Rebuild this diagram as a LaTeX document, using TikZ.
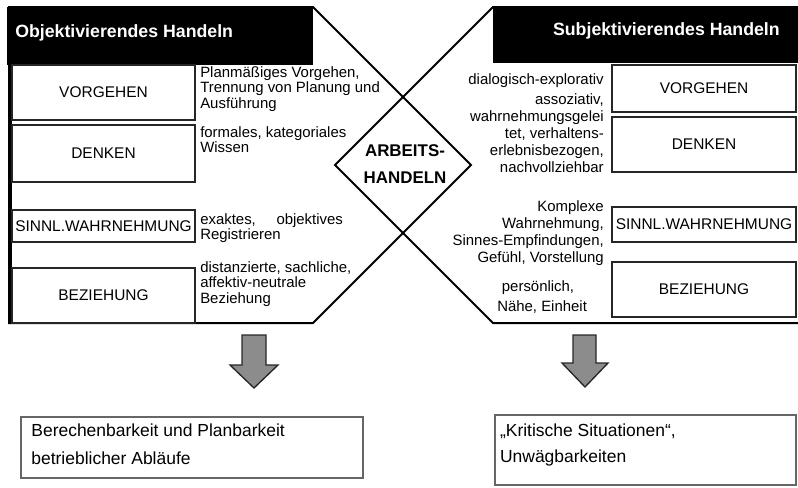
\documentclass[tikz,border=0pt]{standalone}
\usepackage{fontspec}
\setmainfont{Liberation Sans}
\usetikzlibrary{fit}
\begin{document}
\begin{tikzpicture}[x=0.75pt,y=-0.75pt,
		kasten/.style={draw=black!85,line width=1.1pt,inner sep=0pt},
		wort/.style={inner sep=0pt,font=\fontsize{11.6}{13}\selectfont},
		unten/.style={draw=black!60,line width=0.8pt,inner sep=0pt},
		textL/.style={anchor=north west,inner sep=0pt,align=left,font=\fontsize{11.2}{11.6}\selectfont},
		textR/.style={anchor=north east,inner sep=0pt,align=right,font=\fontsize{11.2}{12.75}\selectfont},
		kopf/.style={inner sep=0pt,text=white,font=\bfseries\fontsize{13.3}{15}\selectfont},
		pfeil/.style={draw=black!85,line width=1pt,fill=black!45}]
				\useasboundingbox (0,0) rectangle (798,487);
				\draw[line width=1.5pt,line join=miter] (9,7)--(313,7)--(471,165)--(313,323)--(9,323)--cycle;
				\draw[line width=1.5pt,line join=miter] (800,7)--(493,7)--(335,165)--(493,323)--(800,323);
				\draw[line width=1.2pt] (11,7)--(11,323);
				\fill (7,7) rectangle (313,65);
				\fill (493,7) rectangle (798,63);
				\node[kopf,anchor=west] (objH) at (15,33) {Objektivierendes Handeln};
				\node[kopf,anchor=east] (subH) at (780,31) {Subjektivierendes Handeln};
				\node[kasten,fit={(12,65)(195,120)}] (vorgehenL) {};
				\node[kasten,fit={(12,125)(195,182)}] (denkenL) {};
				\node[kasten,fit={(12,210)(195,242)}] (sinnL) {};
				\node[kasten,fit={(12,268)(195,323)}] (beziehungL) {};
				\node[kasten,fit={(612,65)(796,112)}] (vorgehenR) {};
				\node[kasten,fit={(612,117)(796,172)}] (denkenR) {};
				\node[kasten,fit={(612,207)(796,242)}] (sinnR) {};
				\node[kasten,fit={(612,262)(796,317)}] (beziehungR) {};
				\node[wort] (vorgehenLt) at (vorgehenL.center) {VORGEHEN};
				\node[wort] (denkenLt) at (denkenL.center) {DENKEN};
				\node[wort] (sinnLt) at (sinnL.center) {SINNL.WAHRNEHMUNG};
				\node[wort] (beziehungLt) at (beziehungL.center) {BEZIEHUNG};
				\node[wort] (vorgehenRt) at (vorgehenR.center) {VORGEHEN};
				\node[wort] (denkenRt) at (denkenR.center) {DENKEN};
				\node[wort] (sinnRt) at (sinnR.center) {SINNL.WAHRNEHMUNG};
				\node[wort] (beziehungRt) at (beziehungR.center) {BEZIEHUNG};
				\node[textL] (planL) at (200,66) {Planmäßiges Vorgehen,\\Trennung von Planung und\\Ausführung};
				\node[textL] (wissenL) at (200,126) {formales, kategoriales\\Wissen};
				\node[textL,text width=107pt] (registL) at (200,213) {exaktes,\hfill objektives\\Registrieren};
				\node[textL] (distL) at (200,261) {distanzierte, sachliche,\\affektiv-neutrale\\Beziehung};
				\node[textR] (dialogR) at (604,73) {dialogisch-explorativ};
				\node[textR] (assozR) at (604,93) {assoziativ,\\wahrnehmungsgelei\\tet, verhaltens-\\erlebnisbezogen,\\nachvollziehbar};
				\node[textR] (komplexR) at (604,200) {Komplexe\\Wahrnehmung,\\Sinnes-Empfindungen,\\Gefühl, Vorstellung};
				\node[textL,font=\fontsize{11.2}{15}\selectfont] (naeheR) at (497,280) {\hspace{3.5pt}persönlich,\\Nähe, Einheit};
				\node[align=center,inner sep=0pt,font=\bfseries\fontsize{12.7}{20}\selectfont] (arbeit) at (405,164) {ARBEITS-\\HANDELN};
				\draw[pfeil] (242,335)--(266,335)--(266,365)--(278,365)--(254,388)--(230,365)--(242,365)--cycle;
				\draw[pfeil] (573,335)--(596,335)--(596,363)--(608,363)--(585,387)--(562,363)--(573,363)--cycle;
				\node[unten,fit={(21,417)(363,478)}] (folgeL) {};
				\node[unten,fit={(495,415)(796,485)}] (folgeR) {};
				\node[textL,font=\fontsize{13.1}{20.5}\selectfont] (berechL) at ([xshift=8pt,yshift=-5.5pt]folgeL.north west) {Berechenbarkeit und Planbarkeit\\betrieblicher Abläufe};
				\node[textL,font=\fontsize{13.1}{19.5}\selectfont] (kritR) at ([xshift=4pt,yshift=-6.5pt]folgeR.north west) {„Kritische Situationen“,\\Unwägbarkeiten};
			\end{tikzpicture}
\end{document}
